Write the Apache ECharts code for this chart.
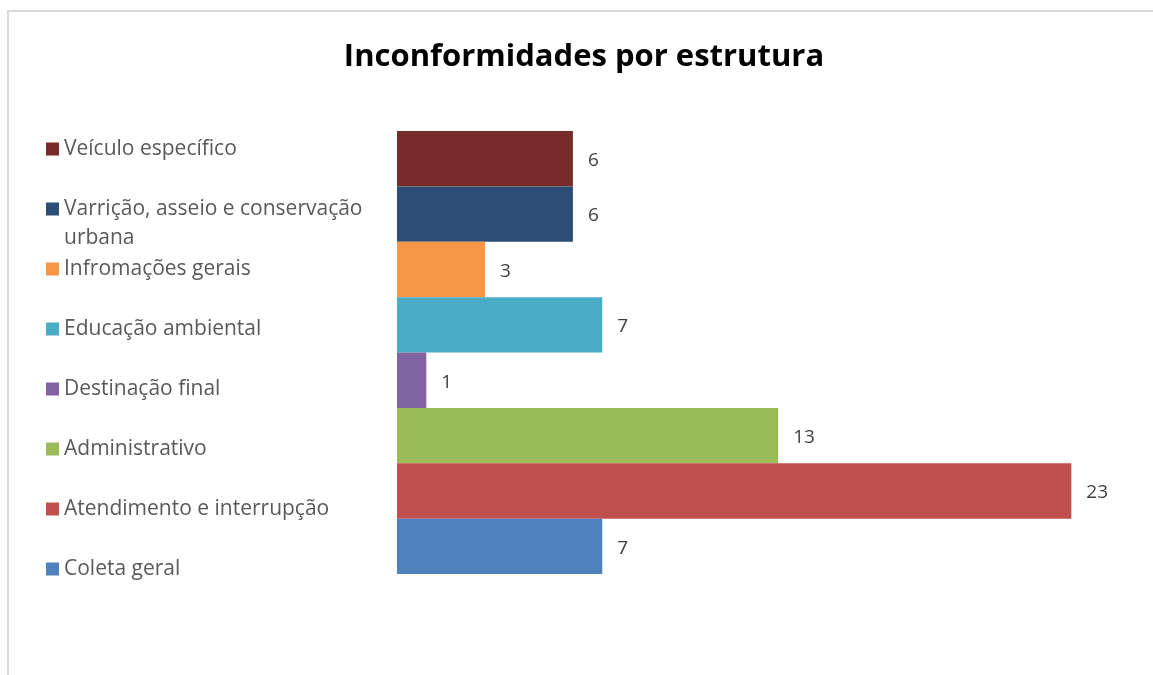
<!DOCTYPE html>
<html>
<head>
<meta charset="utf-8">
<script src="https://cdn.jsdelivr.net/npm/echarts@6/dist/echarts.min.js"></script>
<style>
  html, body { margin: 0; padding: 0; background: #fff; }
  #chart { width: 1153px; height: 675px; }
</style>
</head>
<body>
<div id="chart"></div>
<script>
  // top to bottom, as in the picture
  var names = ['Veículo específico', 'Varrição, asseio e conservação urbana', 'Infromações gerais',
    'Educação ambiental', 'Destinação final', 'Administrativo', 'Atendimento e interrupção', 'Coleta geral'];
  var values = [6, 6, 3, 7, 1, 13, 23, 7];
  var colors = ['#772C2A', '#2C4D75', '#F79646', '#4BACC6', '#8064A2', '#9BBB59', '#C0504D', '#4F81BD'];

  var chart = echarts.init(document.getElementById('chart'));

  var series = [];
  var legendData = [];
  for (var i = 0; i < names.length; i++) {
    series.push({
      name: names[i],
      type: 'bar',
      barGap: '0%',
      barCategoryGap: '0%',
      itemStyle: { color: colors[i] },
      label: {
        show: true,
        position: 'right',
        distance: 15,
        offset: [0, 2],
        color: '#404040',
        fontFamily: 'Open Sans',
        fontSize: 19
      },
      data: [values[i]]
    });
    // every legend item is 87px tall (3 lines); the wrapped one uses an empty first line
    // so its text starts level with the square
    var twoLines = names[i].indexOf('conservação ') >= 0;
    legendData.push({
      name: names[i],
      textStyle: { padding: twoLines ? 0 : [29, 0, 29, 0] }
    });
  }

  chart.setOption({
    animation: false,
    title: {
      text: 'Inconformidades por estrutura',
      left: 579,
      top: 37,
      textAlign: 'center',
      textStyle: { fontFamily: 'Open Sans', fontWeight: 'bold', fontSize: 31, color: '#000' }
    },
    graphic: [{
      type: 'rect',
      shape: { x: 8, y: 11, width: 1170, height: 700 },
      style: { fill: null, stroke: '#d9d9d9', lineWidth: 2 },
      silent: true
    }],
    legend: {
      orient: 'vertical',
      left: 46,
      top: 105.5,
      padding: 0,
      itemWidth: 13,
      itemHeight: 13,
      itemGap: -27,
      icon: 'rect',
      data: legendData,
      formatter: function (name) {
        if (name.indexOf('conservação ') >= 0) {
          return '\n' + name.replace('conservação ', 'conservação\n');
        }
        return name;
      },
      textStyle: { fontFamily: 'Open Sans', fontSize: 21, color: '#595959', lineHeight: 29 }
    },
    grid: { left: 397, top: 131, width: 733, height: 443 },
    xAxis: { type: 'value', min: 0, max: 25, show: false },
    yAxis: {
      type: 'category',
      data: [''],
      axisLine: { show: false },
      axisTick: { show: false },
      axisLabel: { show: false },
      inverse: true
    },
    series: series
  });
</script>
</body>
</html>
